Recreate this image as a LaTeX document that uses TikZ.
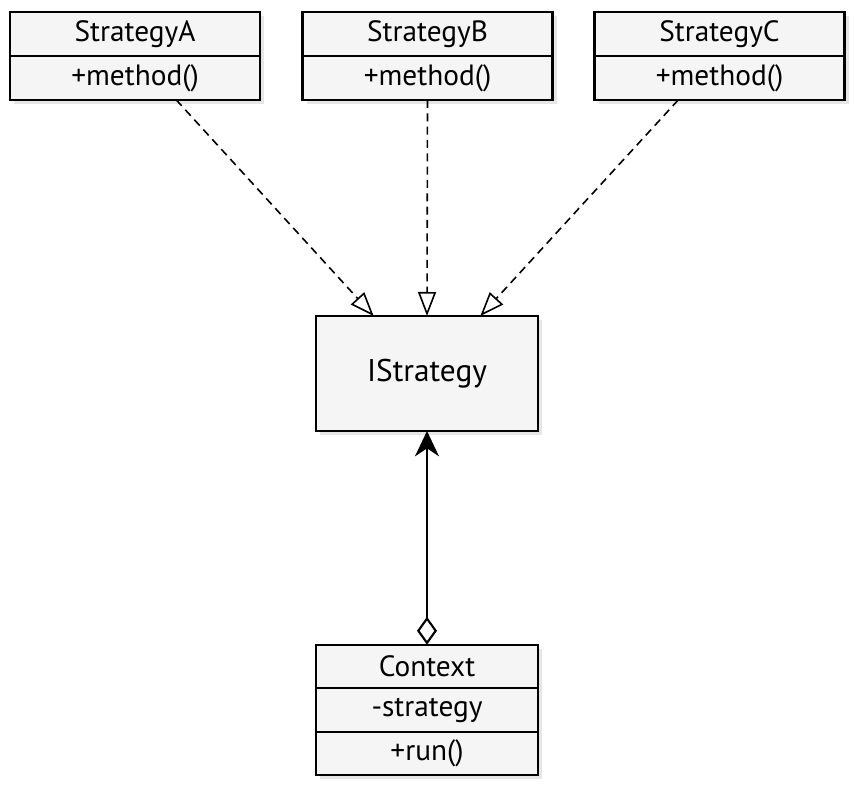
\documentclass[tikz,border=0pt]{standalone}
\usepackage{fontspec}
\setmainfont{PT Sans}
\newcommand*{\umlfont}{\fontsize{22}{26}\selectfont}
\newcommand*{\bigumlfont}{\fontsize{23.5}{28}\selectfont}
\usepackage{tikz}
\usetikzlibrary{arrows.meta}
\usetikzlibrary{shadows}
\tikzstyle{base}=[x=0.75pt, y=-0.75pt, inner sep=0pt, outer sep=0pt]
\tikzstyle{part}=[draw=black, line width=1.8pt, fill=gray!8, font=\umlfont,
    drop shadow={opacity=0.2, shadow xshift=3pt, shadow yshift=-3pt}]
\tikzstyle{wide}=[minimum width=187.5pt, minimum height=33pt]
\tikzstyle{narrow}=[minimum width=166.5pt, minimum height=32.6pt]
\tikzstyle{realize}=[dashed, dash pattern=on 6pt off 4pt, line width=1.2pt,
    -{Triangle[open, length=18pt, width=13.5pt]}]
\tikzstyle{aggregate}=[line width=1.6pt,
    {Diamond[open, length=21pt, width=15pt]}-{Stealth[length=19pt, width=18pt, inset=6pt]}]

\begin{document}
\begin{tikzpicture}[base]
    \useasboundingbox (0,0) rectangle (854,787);
        \node [part, wide] (Aname) at (135,34) {StrategyA};
        \node [part, wide] (Amethod) at (135,78) {+method()};
        \node [part, wide] (Bname) at (427.5,34) {StrategyB};
        \node [part, wide] (Bmethod) at (427.5,78) {+method()};
        \node [part, wide] (Cname) at (719.5,34) {StrategyC};
        \node [part, wide] (Cmethod) at (719.5,78) {+method()};
        \node [part, narrow, minimum height=86.25pt, font=\bigumlfont] (IS) at (427,373.5) {IStrategy};
        \node [part, narrow] (Ctxname) at (427,666.5) {Context};
        \node [part, narrow] (Ctxfield) at (427,710) {-strategy};
        \node [part, narrow] (Ctxrun) at (427,753.5) {+run()};
        \draw [realize] ([xshift=31pt]Amethod.south) -- ([xshift=-40pt]IS.north);
        \draw [realize] (Bmethod.south) -- (IS.north);
        \draw [realize] ([xshift=-31pt]Cmethod.south) -- ([xshift=40pt]IS.north);
        \draw [aggregate] (Ctxname.north) -- (IS.south);
    \end{tikzpicture}
\end{document}
